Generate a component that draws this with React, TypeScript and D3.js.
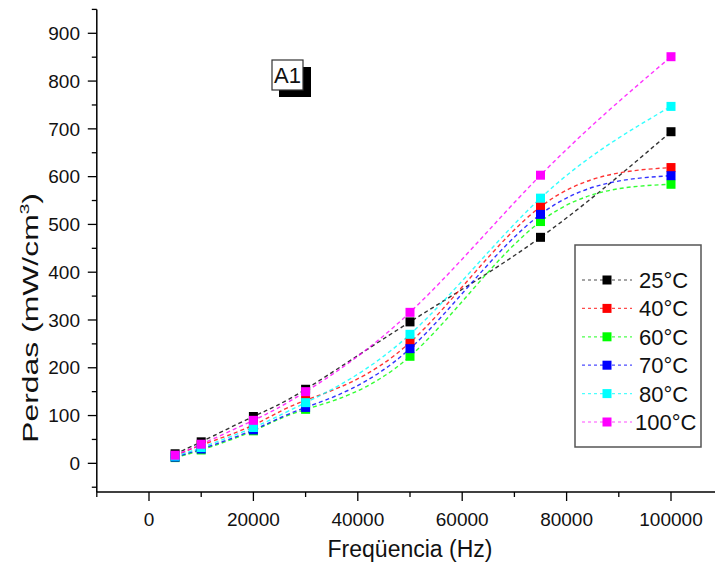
import * as d3 from "d3";

const freqs = [5000, 10000, 20000, 30000, 50000, 75000, 100000];
const temps = ["25°C", "40°C", "60°C", "70°C", "80°C", "100°C"];
const colors = ["#000000", "#ff0000", "#00ff00", "#0000ff", "#00ffff", "#ff00ff"];
const perdas25 = [20, 45, 98, 155, 296, 473, 694];
const perdas40 = [15, 38, 80, 132, 253, 537, 619];
const perdas60 = [12, 28, 68, 113, 224, 506, 584];
const perdas70 = [13, 30, 70, 117, 240, 521, 602];
const perdas80 = [15, 33, 75, 127, 270, 555, 747];
const perdas100 = [17, 40, 90, 150, 316, 603, 851];
const series = [perdas25, perdas40, perdas60, perdas70, perdas80, perdas100];
const xTicks = [0, 20000, 40000, 60000, 80000, 100000];
const yTicks = [0, 100, 200, 300, 400, 500, 600, 700, 800, 900];

const W = 715;
const H = 563;
const font = "Arial, 'Liberation Sans', sans-serif";

export default function App() {
  const x = d3.scaleLinear().domain([-10000, 110000]).range([96.8, 723.2]);
  const y = d3.scaleLinear().domain([-60, 950]).range([492, 9.4]);

  const line = d3
    .line<number>()
    .x((_, i) => x(freqs[i]))
    .y((d) => y(d))
    .curve(d3.curveNatural);

  const xMinor = d3.range(-10000, 110001, 10000);
  const yMinor = d3.range(-50, 951, 50);
  const x0 = x.range()[0];
  const y0 = y.range()[0];

  const legX = 575;
  const legY = 245;
  const legRow = d3.scaleLinear().domain([0, 5]).range([280, 422]);

  return (
    <svg
      width={W}
      height={H}
      style={{ position: "absolute", left: 0, top: 0, background: "#fff" }}
      fontFamily={font}
    >
      {/* data lines */}
      {series.map((s, k) => (
        <path
          key={"l" + k}
          d={line(s) ?? ""}
          fill="none"
          stroke={colors[k]}
          strokeWidth={1.4}
          strokeDasharray="4,3"
          opacity={0.8}
        />
      ))}
      {/* markers */}
      {series.map((s, k) =>
        s.map((v, i) => (
          <rect
            key={"m" + k + "-" + i}
            x={x(freqs[i]) - 4.5}
            y={y(v) - 4.5}
            width={9}
            height={9}
            fill={colors[k]}
          />
        ))
      )}

      {/* axes */}
      <line x1={x0} x2={x0} y1={y(950)} y2={y0} stroke="#000" strokeWidth={1.5} />
      <line x1={x0} x2={W} y1={y0} y2={y0} stroke="#000" strokeWidth={1.5} />
      {yMinor.map((v) => (
        <line
          key={"yt" + v}
          x1={x0}
          x2={x0 - (v % 100 === 0 ? 9 : 5)}
          y1={y(v)}
          y2={y(v)}
          stroke="#000"
          strokeWidth={1.3}
        />
      ))}
      {xMinor.map((v) => (
        <line
          key={"xt" + v}
          x1={x(v)}
          x2={x(v)}
          y1={y0}
          y2={y0 + (v % 20000 === 0 ? 9 : 5)}
          stroke="#000"
          strokeWidth={1.3}
        />
      ))}
      {yTicks.map((v) => (
        <text
          key={"yl" + v}
          x={80}
          y={y(v)}
          dy="0.35em"
          textAnchor="end"
          fontSize={19}
          fill="#111"
        >
          {v}
        </text>
      ))}
      {xTicks.map((v) => (
        <text
          key={"xl" + v}
          x={x(v)}
          y={526}
          textAnchor="middle"
          fontSize={19}
          fill="#111"
        >
          {v}
        </text>
      ))}

      {/* axis titles */}
      <text x={x(50000)} y={557} textAnchor="middle" fontSize={23} fill="#111">
        Freqüencia (Hz)
      </text>
      <text
        transform="translate(38,318) rotate(-90) scale(1.45,1)"
        textAnchor="middle"
        fontSize={22}
        fill="#111"
      >
        Perdas (mW/cm<tspan dy={-9} fontSize={13}>3</tspan>
        <tspan dy={9}>)</tspan>
      </text>

      {/* A1 label */}
      <rect x={279} y={67} width={32} height={30} fill="#000" />
      <rect x={272} y={60} width={31} height={30} fill="#fff" stroke="#333" strokeWidth={1.2} />
      <text x={287.5} y={83} textAnchor="middle" fontSize={22} fill="#111">
        A1
      </text>

      {/* legend */}
      <rect
        x={legX}
        y={legY}
        width={126}
        height={202}
        fill="#fff"
        stroke="#555"
        strokeWidth={1.5}
      />
      {temps.map((t, k) => (
        <g key={"lg" + t}>
          <line
            x1={582}
            x2={632}
            y1={legRow(k)}
            y2={legRow(k)}
            stroke={colors[k]}
            strokeWidth={1.2}
            strokeDasharray="3,3"
            opacity={0.7}
          />
          <rect x={602.5} y={legRow(k) - 4.5} width={9} height={9} fill={colors[k]} />
          <text x={k === 5 ? 635 : 639} y={legRow(k)} dy="0.36em" fontSize={22} fill="#111">
            {t}
          </text>
        </g>
      ))}
    </svg>
  );
}
